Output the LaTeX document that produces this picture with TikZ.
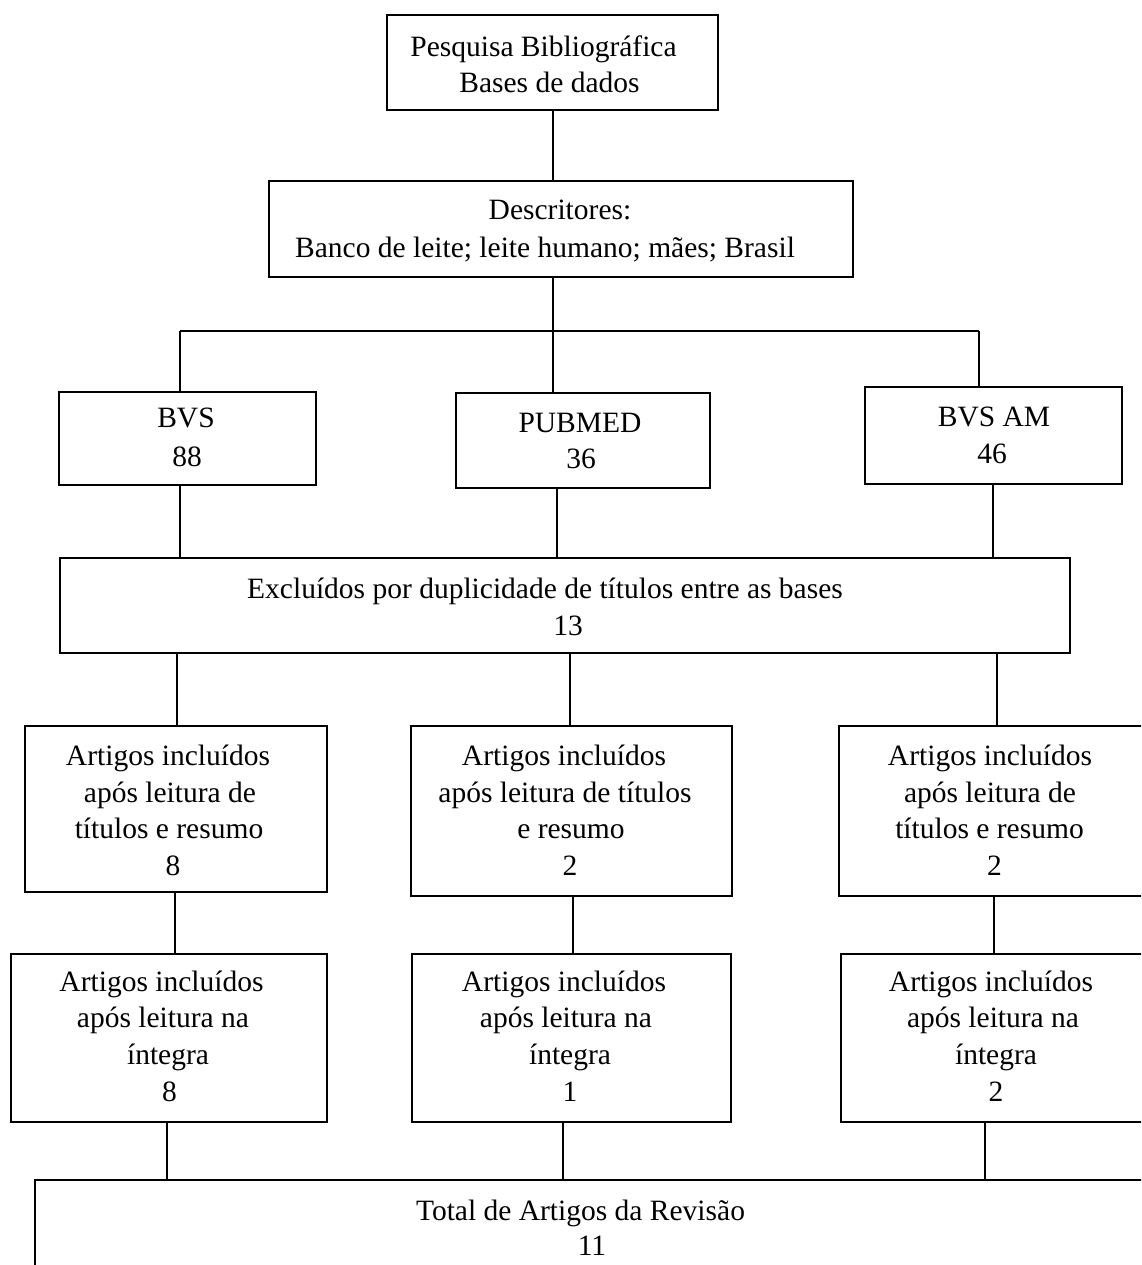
\documentclass[tikz,border=0pt]{standalone}
\usepackage{fontspec}
\setmainfont{Liberation Serif}
\begin{document}
\begin{tikzpicture}[x=1pt,y=-1pt,
  box/.style={draw=black, line width=1.8pt, inner sep=0pt, outer sep=0pt},
  link/.style={draw=black, line width=1.4pt},
  txt/.style={anchor=base, inner sep=0pt, outer sep=0pt, font=\fontsize{29.5}{36.5}\selectfont}]
\useasboundingbox (0,0) rectangle (1141,1265);
\clip (0,0) rectangle (1141,1265);
\fill[white] (0,0) rectangle (1141,1265);

% boxes
\node[box, minimum width=331pt, minimum height=95pt] (top) at (552.5,62.5) {};
\node[box, minimum width=584pt, minimum height=96pt] (desc) at (561,229) {};
\node[box, minimum width=257pt, minimum height=93pt] (bvs) at (187.5,438.5) {};
\node[box, minimum width=254pt, minimum height=95pt] (pub) at (583,440.5) {};
\node[box, minimum width=257pt, minimum height=97pt] (bvsam) at (993.5,435.5) {};
\node[box, minimum width=1010pt, minimum height=95pt] (excl) at (565,605.5) {};
\node[box, minimum width=302pt, minimum height=166pt] (a1) at (176,809) {};
\node[box, minimum width=321pt, minimum height=170pt] (b1) at (571.5,811) {};
\node[box, minimum width=321pt, minimum height=170pt] (c1) at (999.5,811) {};
\node[box, minimum width=316pt, minimum height=168pt] (a2) at (169,1038) {};
\node[box, minimum width=319pt, minimum height=168pt] (b2) at (571.5,1038) {};
\node[box, minimum width=321pt, minimum height=168pt] (c2) at (1001.5,1038) {};
\node[box, minimum width=1165pt, minimum height=120pt] (tot) at (617.5,1240) {};

% connector x positions
\coordinate (j) at (553,331);
\coordinate (jl) at (180,331);
\coordinate (jr) at (979,331);
\coordinate (xp) at (557,0);
\coordinate (xm) at (993,0);
\coordinate (xa) at (177,0);
\coordinate (xb) at (570,0);
\coordinate (xc) at (997,0);
\coordinate (ya) at (175,0);
\coordinate (yb) at (573,0);
\coordinate (yc) at (994,0);
\coordinate (za) at (167,0);
\coordinate (zb) at (563,0);
\coordinate (zc) at (985,0);

% connectors
\draw[link] (top.south -| j) -- (desc.north -| j);
\draw[link] (desc.south -| j) -- (pub.north -| j);
\draw[link] (jl) -- (jr);
\draw[link] (jl) -- (bvs.north -| jl);
\draw[link] (jr) -- (bvsam.north -| jr);
\draw[link] (bvs.south -| jl) -- (excl.north -| jl);
\draw[link] (pub.south -| xp) -- (excl.north -| xp);
\draw[link] (bvsam.south -| xm) -- (excl.north -| xm);
\draw[link] (excl.south -| xa) -- (a1.north -| xa);
\draw[link] (excl.south -| xb) -- (b1.north -| xb);
\draw[link] (excl.south -| xc) -- (c1.north -| xc);
\draw[link] (a1.south -| ya) -- (a2.north -| ya);
\draw[link] (b1.south -| yb) -- (b2.north -| yb);
\draw[link] (c1.south -| yc) -- (c2.north -| yc);
\draw[link] (a2.south -| za) -- (tot.north -| za);
\draw[link] (b2.south -| zb) -- (tot.north -| zb);
\draw[link] (c2.south -| zc) -- (tot.north -| zc);

% texts
\node[txt] (t1) at (543.5,57) {Pesquisa Bibliográfica};
\node[txt] (t2) at (549.5,93) {Bases de dados};
\node[txt] (d1) at (560,220) {Descritores:};
\node[txt] (d2) at (545,258) {Banco de leite; leite humano; mães; Brasil};
\node[txt] (s1) at (186,427) {BVS};
\node[txt] (s2) at (187,466) {88};
\node[txt] (p1) at (580,432) {PUBMED};
\node[txt] (p2) at (581,468) {36};
\node[txt] (m1) at (994,426) {BVS AM};
\node[txt] (m2) at (992,463) {46};
\node[txt] (e1) at (545,598) {Excluídos por duplicidade de títulos entre as bases};
\node[txt] (e2) at (568,635) {13};
\node[txt] (a11) at (168,765) {Artigos incluídos};
\node[txt] (a12) at (170,802) {após leitura de};
\node[txt] (a13) at (169,838) {títulos e resumo};
\node[txt] (a14) at (173,875) {8};
\node[txt] (b11) at (564,765) {Artigos incluídos};
\node[txt] (b12) at (565,802) {após leitura de títulos};
\node[txt] (b13) at (571,838) {e resumo};
\node[txt] (b14) at (570,875) {2};
\node[txt] (c11) at (990,765) {Artigos incluídos};
\node[txt] (c12) at (990,802) {após leitura de};
\node[txt] (c13) at (989.5,838) {títulos e resumo};
\node[txt] (c14) at (994.5,875) {2};
\node[txt] (a21) at (161.5,991) {Artigos incluídos};
\node[txt] (a22) at (163,1027) {após leitura na};
\node[txt] (a23) at (168,1064) {íntegra};
\node[txt] (a24) at (169.5,1101) {8};
\node[txt] (b21) at (564,991) {Artigos incluídos};
\node[txt] (b22) at (566,1027) {após leitura na};
\node[txt] (b23) at (570,1064) {íntegra};
\node[txt] (b24) at (570,1101) {1};
\node[txt] (c21) at (991,991) {Artigos incluídos};
\node[txt] (c22) at (993,1027) {após leitura na};
\node[txt] (c23) at (996,1064) {íntegra};
\node[txt] (c24) at (996,1101) {2};
\node[txt] (o1) at (580.5,1220) {Total de Artigos da Revisão};
\node[txt] (o2) at (592,1255) {11};
\end{tikzpicture}
\end{document}
